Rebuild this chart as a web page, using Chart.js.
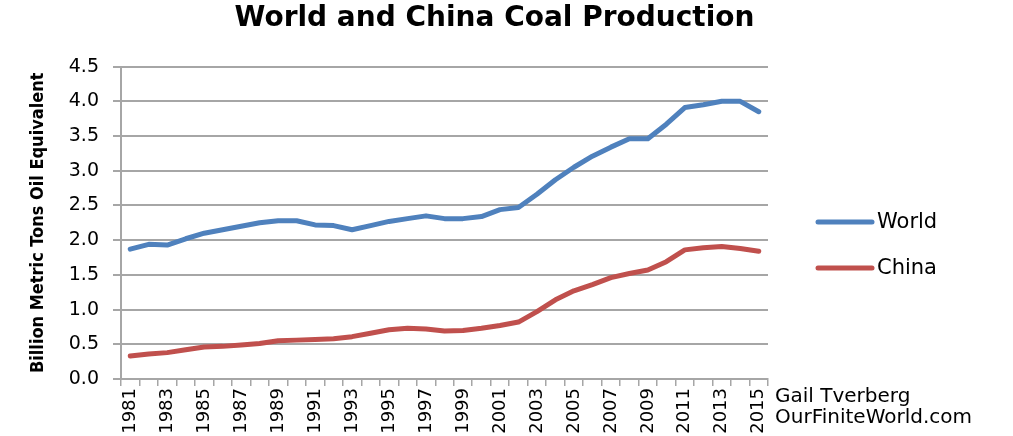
<!DOCTYPE html>
<html>
<head>
<meta charset="utf-8">
<script src="https://cdn.jsdelivr.net/npm/chart.js@4.4.0/dist/chart.umd.min.js"></script>
<style>
  body { margin: 0; background: #fff; }
  #wrap { width: 1013px; height: 436px; }
</style>
</head>
<body>
<div id="wrap"><canvas id="coalChart" width="1013" height="436"></canvas></div>
<script>
// Anos 1981-2015
const years = ['1981','1982','1983','1984','1985','1986','1987','1988','1989','1990',
  '1991','1992','1993','1994','1995','1996','1997','1998','1999','2000',
  '2001','2002','2003','2004','2005','2006','2007','2008','2009','2010',
  '2011','2012','2013','2014','2015'];

// bilhoes de toneladas de oleo equivalente
const world = [1.87, 1.94, 1.93, 2.02, 2.10, 2.15, 2.20, 2.25, 2.28, 2.28,
  2.22, 2.21, 2.15, 2.21, 2.27, 2.31, 2.35, 2.31, 2.31, 2.34,
  2.44, 2.47, 2.66, 2.87, 3.05, 3.21, 3.34, 3.46, 3.46, 3.67,
  3.91, 3.95, 4.00, 4.00, 3.85];

const china = [0.33, 0.36, 0.38, 0.42, 0.46, 0.47, 0.49, 0.51, 0.55, 0.56,
  0.57, 0.58, 0.61, 0.66, 0.71, 0.73, 0.72, 0.69, 0.70, 0.73,
  0.77, 0.82, 0.97, 1.14, 1.27, 1.36, 1.46, 1.52, 1.57, 1.69,
  1.86, 1.89, 1.91, 1.88, 1.84];

const yTicks = [0, 0.5, 1, 1.5, 2, 2.5, 3, 3.5, 4, 4.5];

const gridGray = '#a6a6a6';

// legenda e credito desenhados a direita
const sideText = {
  id: 'sideText',
  afterDraw(chart) {
    const ctx = chart.ctx;
    ctx.save();
    ctx.textBaseline = 'middle';
    ctx.fillStyle = '#000';
    ctx.font = '21px "DejaVu Sans"';
    chart.data.datasets.forEach((ds, i) => {
      const y = 222 + i * 46;
      ctx.strokeStyle = ds.borderColor;
      ctx.lineWidth = 5;
      ctx.lineCap = 'round';
      ctx.beginPath();
      ctx.moveTo(818, y);
      ctx.lineTo(872, y);
      ctx.stroke();
      ctx.fillText(ds.label, 877, y + 1);
    });
    ctx.font = '20px "DejaVu Sans"';
    ctx.fillText('Gail Tverberg', 775, 397);
    ctx.fillText('OurFiniteWorld.com', 775, 418);
    ctx.restore();
  }
};

const ctx = document.getElementById('coalChart').getContext('2d');
const coalChart = new Chart(ctx, {
  type: 'line',
  data: {
    labels: years,
    datasets: [{
      label: 'World',
      data: world,
      borderColor: '#4f81bd',
      borderWidth: 5,
      pointRadius: 0,
      tension: 0,
      borderCapStyle: 'round',
      borderJoinStyle: 'round'
    }, {
      label: 'China',
      data: china,
      borderColor: '#c0504d',
      borderWidth: 5,
      pointRadius: 0,
      tension: 0,
      borderCapStyle: 'round',
      borderJoinStyle: 'round'
    }]
  },
  options: {
    responsive: false,
    animation: false,
    layout: { padding: { left: 0, right: 24, top: 0, bottom: 0 } },
    plugins: {
      legend: { display: false },
      tooltip: { enabled: false },
      title: {
        display: true,
        text: 'World and China Coal Production',
        color: '#000',
        font: { family: 'DejaVu Sans', size: 28, weight: 'bold' },
        padding: { top: 2, bottom: 31 }
      }
    },
    scales: {
      x: {
        offset: true,
        grid: {
          offset: true,
          drawOnChartArea: false,
          drawTicks: true,
          tickLength: 7,
          color: gridGray,
          lineWidth: 1.5
        },
        border: { color: gridGray, width: 2 },
        ticks: {
          autoSkip: false,
          minRotation: 90,
          maxRotation: 90,
          padding: 2,
          color: '#000',
          font: { family: 'DejaVu Sans', size: 18 },
          callback: function (v, i) { return i % 2 === 0 ? years[i] : ''; }
        },
        afterFit(scale) { scale.height = 57; }
      },
      y: {
        min: 0,
        max: 4.5,
        afterBuildTicks(scale) { scale.ticks = yTicks.map(v => ({ value: v })); },
        grid: {
          color: gridGray,
          lineWidth: 2,
          tickLength: 8
        },
        border: { color: gridGray, width: 2 },
        ticks: {
          padding: 14,
          color: '#000',
          font: { family: 'DejaVu Sans', size: 19 },
          callback: v => v.toFixed(1)
        },
        title: {
          display: true,
          text: 'Billion Metric Tons Oil Equivalent',
          color: '#000',
          font: { family: 'DejaVu Sans Condensed', size: 18, weight: 'bold' },
          padding: { top: 28, bottom: 0 }
        },
        afterFit(scale) { scale.width = 121; }
      },
      // espaco vazio a direita para a legenda
      side: {
        position: 'right',
        display: true,
        grid: { drawOnChartArea: false, drawTicks: false },
        border: { display: false },
        ticks: { display: false },
        afterFit(scale) { scale.width = 221; }
      }
    }
  },
  plugins: [sideText]
});
</script>
</body>
</html>
